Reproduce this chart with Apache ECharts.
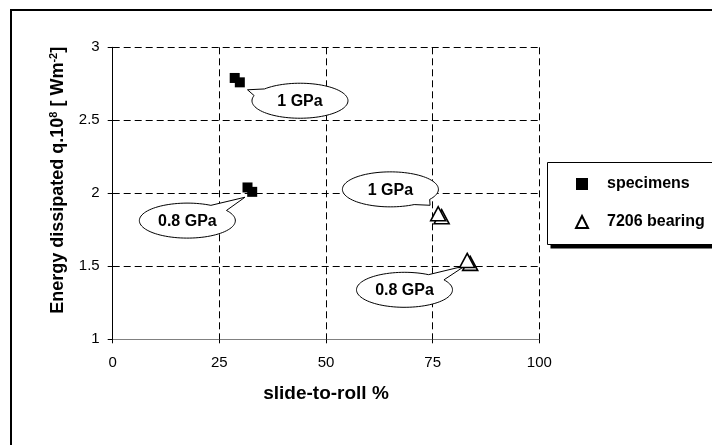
<!DOCTYPE html>
<html><head><meta charset="utf-8">
<script src="https://cdn.jsdelivr.net/npm/echarts@6/dist/echarts.min.js"></script>
<style>html,body{margin:0;padding:0;background:#fff}#c{width:712px;height:445px}</style>
</head><body><div id="c"></div>
<script>
// ---- data ----
const specimensX = [28.6, 29.8, 31.6, 32.7];
const specimensY = [2.79, 2.76, 2.04, 2.01];
const bearingX = [77.1, 76.3, 83.8, 83.1];
const bearingY = [1.84, 1.86, 1.52, 1.54];
const xTicks = [0, 25, 50, 75, 100];
const yTicks = [1, 1.5, 2, 2.5, 3];
const calloutLabels = ['1 GPa', '0.8 GPa', '1 GPa', '0.8 GPa'];
const calloutX = [43.9, 17.5, 65.1, 68.4];
const calloutY = [2.634, 1.813, 2.027, 1.339];
const pointerX = [31.6, 31.0, 74.4, 82.6];
const pointerY = [2.709, 1.973, 1.918, 1.503];

const F = '"Liberation Sans", Arial, Helvetica, sans-serif';

function renderCallout(params, api) {
  const c = api.coord([api.value(0), api.value(1)]);
  const t = api.coord([api.value(2), api.value(3)]);
  const rx = 48, ry = 17.5;
  const th = Math.atan2((t[1] - c[1]) / ry, (t[0] - c[0]) / rx);
  const d = 0.22;
  const pts = [];
  const n = 90;
  for (let i = 0; i <= n; i++) {
    const a = th + d + (2 * Math.PI - 2 * d) * i / n;
    pts.push([c[0] + rx * Math.cos(a), c[1] + ry * Math.sin(a)]);
  }
  pts.push([t[0], t[1]]);
  return {
    type: 'group',
    children: [
      { type: 'polygon', shape: { points: pts }, style: { fill: '#fff', stroke: '#000', lineWidth: 1 } },
      { type: 'text', x: c[0], y: c[1] + 1, style: { text: calloutLabels[params.dataIndex], fill: '#000',
        font: 'bold 16px ' + F, align: 'center', verticalAlign: 'middle' } }
    ]
  };
}

const chart = echarts.init(document.getElementById('c'), null, { renderer: 'canvas' });
chart.setOption({
  backgroundColor: '#fff',
  animation: false,
  graphic: [
    { type: 'rect', silent: true, z: -10,
      shape: { x: 11, y: 10, width: 760, height: 500 },
      style: { fill: 'none', stroke: '#000', lineWidth: 2 } },
    { type: 'rect', silent: true, z: 1,
      shape: { x: 550.5, y: 166.5, width: 220, height: 82 },
      style: { fill: '#000', stroke: 'none' } },
    { type: 'rect', silent: true, z: 2,
      shape: { x: 547.5, y: 162.5, width: 220, height: 82 },
      style: { fill: '#fff', stroke: '#000', lineWidth: 1 } }
  ],
  grid: { left: 112.7, right: 172.7, top: 47.3, bottom: 105.7, containLabel: false, outerBoundsMode: 'none' },
  xAxis: {
    type: 'value', min: xTicks[0], max: xTicks[xTicks.length - 1], interval: 25,
    name: 'slide-to-roll %', nameLocation: 'middle', nameGap: 45,
    nameTextStyle: { fontFamily: F, fontWeight: 'bold', fontSize: 19, color: '#000' },
    axisLine: { show: true, lineStyle: { color: '#808080', width: 1 } },
    axisTick: { show: true, length: 4, lineStyle: { color: '#000' } },
    axisLabel: { fontFamily: F, fontSize: 15, color: '#000', margin: 16 },
    splitLine: { show: true, lineStyle: { color: '#000', type: [7, 4], width: 1 } }
  },
  yAxis: {
    type: 'value', min: yTicks[0], max: yTicks[yTicks.length - 1], interval: 0.5,
    name: '{a|Energy dissipated q.10}{s|8}{a| [ Wm}{s|-2}{a|]}',
    nameLocation: 'middle', nameGap: 46,
    nameTextStyle: {
      padding: [0, 0, 0, 26],
      rich: {
        a: { fontFamily: F, fontWeight: 'bold', fontSize: 18, color: '#000' },
        s: { fontFamily: F, fontWeight: 'bold', fontSize: 11, color: '#000', verticalAlign: 'top' }
      }
    },
    axisLine: { show: true, lineStyle: { color: '#000', width: 1 } },
    axisTick: { show: true, length: 5, lineStyle: { color: '#000' } },
    axisLabel: { fontFamily: F, fontSize: 15, color: '#000', margin: 13 },
    splitLine: { show: true, lineStyle: { color: '#000', type: [7, 4], width: 1 } }
  },
  legend: {
    orient: 'vertical', left: 547, top: 162, z: 5,
    padding: [14, 40, 14, 28], itemGap: 22, itemWidth: 12, itemHeight: 12,
    backgroundColor: 'transparent', borderWidth: 0,
    selectedMode: false,
    textStyle: { fontFamily: F, fontWeight: 'bold', fontSize: 16, color: '#000', padding: [0, 0, 0, 14] },
    data: [{ name: 'specimens' }, { name: '7206 bearing' }]
  },
  series: [
    {
      type: 'custom', name: 'callouts', renderItem: renderCallout, silent: true,
      encode: { x: [0, 2], y: [1, 3] },
      data: calloutX.map((x, i) => [x, calloutY[i], pointerX[i], pointerY[i]])
    },
    {
      type: 'scatter', name: 'specimens', symbol: 'rect', symbolSize: 10,
      itemStyle: { color: '#000', opacity: 1 },
      data: specimensX.map((x, i) => [x, specimensY[i]])
    },
    {
      type: 'scatter', name: '7206 bearing', symbol: 'triangle', symbolSize: [15, 14],
      itemStyle: { color: '#fff', borderColor: '#000', borderWidth: 1.6, opacity: 1 },
      data: bearingX.map((x, i) => [x, bearingY[i]])
    }
  ]
});
</script></body></html>
